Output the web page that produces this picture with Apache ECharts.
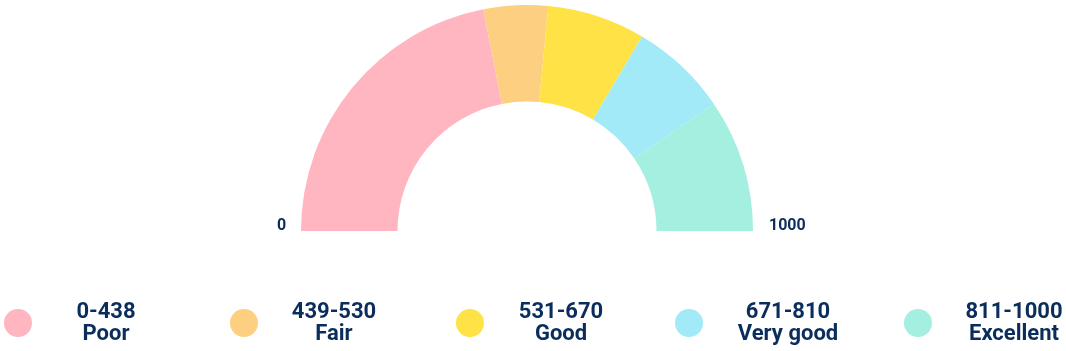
<!DOCTYPE html>
<html>
<head>
<meta charset="utf-8">
<script src="https://cdn.jsdelivr.net/npm/echarts@6/dist/echarts.min.js"></script>
<style>
html,body{margin:0;padding:0;background:#fff;}
#chart{width:1066px;height:351px;}
</style>
</head>
<body>
<div id="chart"></div>
<script>
// ---- data ----
const ranges = ['0-438', '439-530', '531-670', '671-810', '811-1000'];
const ratings = ['Poor', 'Fair', 'Good', 'Very good', 'Excellent'];
const bandStarts = [0, 438, 530, 670, 810];
const bandEnds = [438, 530, 670, 810, 1000];
const scaleLabels = ['0', '1000'];
const colors = ['#FFB6C1', '#FDCF80', '#FFE346', '#A2EAF7', '#A5EFE0'];

// ---- layout ----
const textColor = '#0B2D5B';
const cx = 527, cy = 231;
const legendLeft = [4, 230, 456, 675, 904];
const legendTextW = [138, 142, 144, 160, 154];

const chart = echarts.init(document.getElementById('chart'), null, {renderer: 'canvas'});

const pieData = ranges.map((r, i) => ({
  name: r,
  value: bandEnds[i] - bandStarts[i],
  itemStyle: {color: colors[i]}
}));

const legends = ranges.map((r, i) => ({
  data: [r],
  left: legendLeft[i],
  top: 301,
  padding: 0,
  orient: 'horizontal',
  icon: 'circle',
  itemWidth: 28,
  itemHeight: 28,
  selectedMode: false,
  formatter: function (name) {
    const k = ranges.indexOf(name);
    return '{a|' + name + '}\n{a|' + ratings[k] + '}';
  },
  textStyle: {
    rich: {
      a: {
        fontFamily: 'Roboto',
        fontSize: 22,
        fontWeight: 700,
        lineHeight: 22,
        color: textColor,
        width: legendTextW[i],
        align: 'center'
      }
    }
  }
}));

chart.setOption({
  backgroundColor: '#ffffff',
  animation: false,
  legend: legends,
  series: [{
    type: 'pie',
    center: [cx, cy],
    radius: [129.5, 226],
    startAngle: 180,
    endAngle: 0,
    clockwise: true,
    label: {show: false},
    labelLine: {show: false},
    emphasis: {disabled: true},
    itemStyle: {borderWidth: 0},
    data: pieData
  }],
  graphic: [
    {
      type: 'text',
      left: 277,
      top: 218,
      style: {text: scaleLabels[0], fill: textColor, font: 'bold 16px Roboto'}
    },
    {
      type: 'text',
      left: 769,
      top: 218,
      style: {text: scaleLabels[1], fill: textColor, font: 'bold 16px Roboto'}
    }
  ]
});
</script>
</body>
</html>
